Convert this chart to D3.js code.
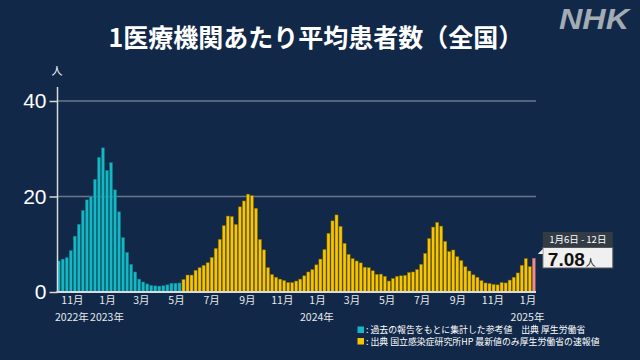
<!DOCTYPE html>
<html><head><meta charset="utf-8">
<script src="https://cdn.jsdelivr.net/npm/d3@7"></script>
<style>html,body{margin:0;padding:0;background:#112849;} svg{display:block}</style>
</head><body><svg id="c" width="640" height="360"></svg>
<script>
const titleText = "1医療機関あたり平均患者数（全国）";
const unitText = "人";
const firstWeekStart = new Date(2022, 9, 3);
const lastWeekStart = new Date(2025, 0, 6);
// cyan: 過去の報告をもとに集計した参考値 (Oct 2022 - May 2023)
const referenceValues = [6.5, 6.9, 7.2, 8.7, 11.7, 14.2, 17.1, 19.3, 20.0, 23.6, 28.2, 30.2, 25.5, 27.1, 21.4, 16.8,
  11.4, 8.3, 5.8, 4.2, 2.7, 2.1, 1.7, 1.4, 1.3, 1.25, 1.35, 1.5, 1.85, 1.85, 1.9];
// yellow: 国立感染症研究所 (May 2023 - Dec 2024)
const sentinelValues = [2.63, 3.56, 3.55, 4.55, 5.11, 5.6, 6.13, 7.24, 9.14, 11.04, 13.91, 15.91, 15.81, 14.16,
  17.84, 19.07, 20.5, 20.19, 17.54, 11.01, 8.83, 5.11, 3.67, 3.1, 2.7, 2.4, 2.0, 2.0, 2.3, 2.7, 3.4, 4.2, 4.7, 5.7,
  6.9, 8.9, 12.3, 14.9, 16.15, 13.75, 10.2, 7.9, 7.0, 6.5, 6.1, 5.2, 5.1, 4.45, 3.7, 3.75, 3.3, 2.3, 2.85, 3.3,
  3.4, 3.5, 4.1, 4.2, 4.7, 5.8, 8.1, 11.2, 13.6, 14.58, 13.8, 10.6, 8.5, 8.8, 7.4, 6.6, 5.3, 4.4, 3.6, 3.1, 2.4,
  1.9, 1.8, 1.6, 1.5, 2.0, 1.9, 2.5, 3.1, 4.0, 5.6, 7.01, 5.32];
// pink: latest 速報値
const latestValues = [7.08];
const latestRangeLabel = "1月6日 - 12日";
const yTickValues = [0, 20, 40];
const monthTickDates = [new Date(2022,10,1), new Date(2023,0,1), new Date(2023,2,1), new Date(2023,4,1),
  new Date(2023,6,1), new Date(2023,8,1), new Date(2023,10,1), new Date(2024,0,1), new Date(2024,2,1),
  new Date(2024,4,1), new Date(2024,6,1), new Date(2024,8,1), new Date(2024,10,1), new Date(2025,0,1)];
const yearTickDates = [new Date(2022,10,1), new Date(2023,0,1), new Date(2024,0,1), new Date(2025,0,1)];
const yearTickLabels = ["2022年", "2023年", "2024年", "2025年"];
const legendLabels = [": 過去の報告をもとに集計した参考値　出典 厚生労働省",
  ": 出典 国立感染症研究所HP 最新値のみ厚生労働省の速報値"];

const COLORS = {bg:"#112849", ref:"#17b6c4", refStroke:"#0b6c78", sen:"#f7c600", senStroke:"#7d6500",
  latest:"#e88e8e", latestStroke:"#9a5555"};
const FONT = "'Noto Sans CJK JP','Noto Sans',sans-serif";
const LATIN = "'Liberation Sans',Arial,sans-serif";

const weeks = d3.timeMonday.range(firstWeekStart, d3.timeDay.offset(lastWeekStart, 1));
const values = referenceValues.concat(sentinelValues, latestValues);
const data = weeks.map((d, i) => ({
  week: d, value: values[i],
  kind: i < referenceValues.length ? "ref" : (i < referenceValues.length + sentinelValues.length ? "sen" : "latest")
}));

const svg = d3.select("#c");
svg.append("rect").attr("width", 640).attr("height", 360).attr("fill", COLORS.bg);

const x = d3.scaleTime().domain([new Date(2023,0,1), new Date(2025,0,1)]).range([107, 527.5]);
const y = d3.scaleLinear().domain([0, 40]).range([292, 101]);
const xLeft = 57.5, xRight = 536;

// title
svg.append("text").attr("x", 316).attr("y", 47).attr("text-anchor", "middle")
  .attr("font-family", FONT).attr("font-weight", 700).attr("font-size", 25).attr("fill", "#fff").text(titleText);
// NHK logo
svg.append("text").attr("x", 629).attr("y", 29).attr("text-anchor", "end")
  .attr("font-family", LATIN).attr("font-weight", 700).attr("font-style", "italic")
  .attr("font-size", 30).attr("fill", "#a3abb4").attr("textLength", 70).attr("lengthAdjust", "spacingAndGlyphs").text("NHK");

// gridlines
svg.append("g").selectAll("line").data(yTickValues.filter(v => v > 0)).join("line")
  .attr("x1", xLeft).attr("x2", xRight).attr("y1", d => y(d)).attr("y2", d => y(d))
  .attr("stroke", "#6a778a").attr("stroke-width", 1.5);

// bars
const barW = 3.1;
svg.append("g").selectAll("rect").data(data).join("rect")
  .attr("x", d => x(d3.timeDay.offset(d.week, 6)) - barW / 2)
  .attr("width", barW)
  .attr("y", d => y(d.value))
  .attr("height", d => y(0) - y(d.value))
  .attr("fill", d => COLORS[d.kind])
  .attr("stroke", d => COLORS[d.kind + "Stroke"]).attr("stroke-width", 0.5);

// y axis
const yAxis = d3.axisLeft(y).tickValues(yTickValues).tickSize(8).tickPadding(3);
const gy = svg.append("g").attr("transform", `translate(${xLeft},0)`).call(yAxis);
gy.select(".domain").remove();
gy.selectAll(".tick line").attr("stroke", "#d9d9d9").attr("stroke-width", 1.5);
gy.selectAll(".tick text").attr("fill", "#fff").attr("font-size", 21).attr("font-family", LATIN);
svg.append("line").attr("x1", xLeft).attr("x2", xLeft).attr("y1", 87).attr("y2", 293)
  .attr("stroke", "#d9d9d9").attr("stroke-width", 1.5);
svg.append("text").attr("x", 57).attr("y", 75).attr("text-anchor", "middle")
  .attr("font-family", FONT).attr("font-size", 11).attr("fill", "#fff").text(unitText);

// baseline
svg.append("line").attr("x1", xLeft - 1).attr("x2", xRight).attr("y1", y(0)).attr("y2", y(0))
  .attr("stroke", "#dcdcdc").attr("stroke-width", 2);

// x axis months
const xAxis = d3.axisBottom(x).tickValues(monthTickDates).tickSize(0).tickPadding(5)
  .tickFormat(d => (d.getMonth() + 1) + "月");
const gx = svg.append("g").attr("transform", `translate(0,${y(0)})`).call(xAxis);
gx.select(".domain").remove();
gx.selectAll(".tick text").attr("fill", "#e8e8e8").attr("font-size", 10.5).attr("font-family", FONT);
// years
svg.append("g").selectAll("text").data(yearTickDates).join("text")
  .attr("x", d => x(d)).attr("y", 320.5).attr("text-anchor", "middle")
  .attr("font-family", FONT).attr("font-size", 10.5).attr("fill", "#e8e8e8")
  .text((d, i) => yearTickLabels[i]);

// annotation for latest
const last = data[data.length - 1];
const lx = x(d3.timeDay.offset(last.week, 6)) + 9;
svg.append("rect").attr("x", lx).attr("y", 232).attr("width", 70).attr("height", 15).attr("fill", "#333b45");
svg.append("text").attr("x", lx + 35).attr("y", 242.5).attr("text-anchor", "middle")
  .attr("font-family", FONT).attr("font-size", 9.5).attr("fill", "#fff").text(latestRangeLabel);
svg.append("rect").attr("x", lx).attr("y", 247.5).attr("width", 70).attr("height", 20.5)
  .attr("fill", "#f0f0f0").attr("stroke", "#555").attr("stroke-width", 1);
svg.append("path").attr("d", `M${lx - 5},${254} L${lx},${249} L${lx},${254} Z`).attr("fill", "#f0f0f0");
const vt = svg.append("text").attr("x", lx + 5).attr("y", 265.5).attr("font-family", LATIN).attr("fill", "#111");
vt.append("tspan").attr("font-size", 19).attr("font-weight", 700).text(d3.format(".2f")(last.value));
vt.append("tspan").attr("font-size", 10).attr("dx", 1).attr("font-family", FONT).text("人");

// legend
const lg = svg.append("g");
const legendColors = [COLORS.ref, COLORS.sen];
legendLabels.forEach((t, i) => {
  lg.append("rect").attr("x", 357.5).attr("y", 326.5 + i * 11.5).attr("width", 6.5).attr("height", 6.5)
    .attr("fill", legendColors[i]);
  lg.append("text").attr("x", 366).attr("y", 333.2 + i * 11.5).attr("font-family", FONT)
    .attr("font-size", 8.9).attr("fill", "#fff").text(t);
});
</script></body></html>
